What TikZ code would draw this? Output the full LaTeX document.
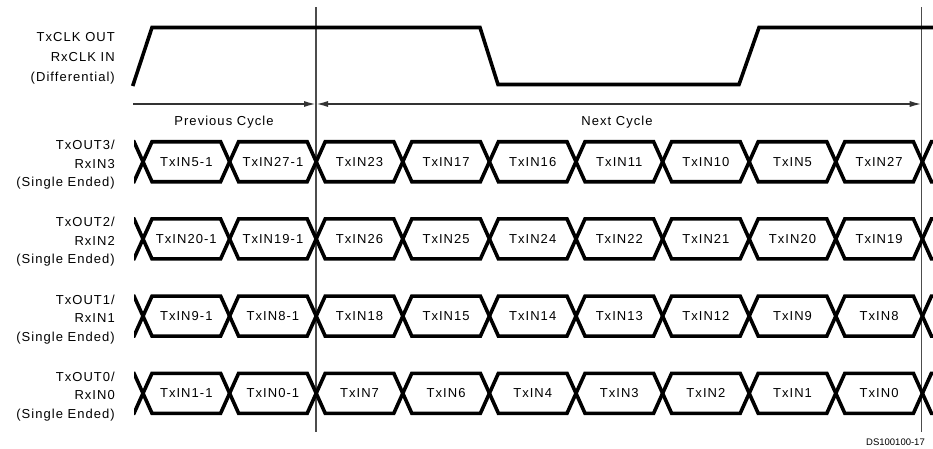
\documentclass[tikz,border=0pt]{standalone}
\usepackage{fontspec}
\setmainfont[LetterSpace=8]{Liberation Sans}
\newfontfamily\dsfont{Liberation Sans}
\usetikzlibrary{arrows.meta}
\begin{document}
\begin{tikzpicture}[x=1pt,y=-1pt,
  sig/.style={line width=3.6pt, line join=miter, line cap=butt},
  guide/.style={line width=1.3pt, draw=black!70},
  dim/.style={line width=1.7pt, draw=black!80},
  tipR/.style={-{Latex[length=12pt,width=6pt]}},
  tipLR/.style={{Latex[length=12pt,width=6pt]}-{Latex[length=12pt,width=6pt]}},
  lbl/.style={font=\fontsize{13}{15}\selectfont, inner sep=0pt},
  side/.style={lbl, anchor=base east},
  cell/.style={lbl, anchor=center}]
\useasboundingbox (0,0) rectangle (933,448);
\fill[white] (0,0) rectangle (933,448);

% clock labels
\node[side] (ck1) at (115,41.7) {TxCLK OUT};
\node[side] (ck2) at (115,61.5) {RxCLK IN};
\node[side] (ck3) at (115,81) {(Differential)};

% guide verticals
\coordinate (v1t) at (316,7);
\coordinate (v1b) at (316,432);
\coordinate (v2t) at (921.7,7);
\coordinate (v2b) at (921.7,432);
\draw[guide] (v1t) -- (v1b);
\draw[guide] (v2t) -- (v2b);

% clock waveform
\begin{scope}
\clip (0,0) rectangle (933,448);
\draw[sig] (132.7,86) -- (152,27.5) -- (480,27.5) -- (498,84.5) -- (739,84.5) -- (759,27.5) -- (945,27.5);
\end{scope}

% cycle dimension arrows
\coordinate (pc0) at (133,104);
\coordinate (pc1) at (316,104);
\coordinate (nc1) at (921.7,104);
\draw[dim,tipR] (pc0) -- (pc1);
\draw[dim,tipLR] (pc1) -- (nc1);
\node[lbl, anchor=base] (prev) at (224,125) {Previous Cycle};
\node[lbl, anchor=base] (next) at (617,125.5) {Next Cycle};

% bus rows
\begin{scope}
\clip (134,0) rectangle (933,448);
\foreach \yy in {161.7,238.9,316.1,393.3}{
  \foreach \i in {-1,...,9}{
    \pgfmathsetmacro\xa{143+86.6*\i}
    \pgfmathsetmacro\xb{\xa+86.6}
    \draw[sig] (\xa,\yy) -- (\xa+9,\yy-20) -- (\xb-9,\yy-20) -- (\xb,\yy);
    \draw[sig] (\xa,\yy) -- (\xa+9,\yy+20) -- (\xb-9,\yy+20) -- (\xb,\yy);
  }
}
\end{scope}

% row labels
\foreach \yy/\n [count=\r] in {161.7/3, 238.9/2, 316.1/1, 393.3/0}{
  \node[side] (sa\r) at (115,\yy-12) {TxOUT\n/};
  \node[side] (sb\r) at (115,\yy+6.6) {RxIN\n};
  \node[side] (sc\r) at (115,\yy+25) {(Single Ended)};
}

% cell labels
\foreach \yy/\lst [count=\r] in {
  161.7/{TxIN5-1,TxIN27-1,TxIN23,TxIN17,TxIN16,TxIN11,TxIN10,TxIN5,TxIN27},
  238.9/{TxIN20-1,TxIN19-1,TxIN26,TxIN25,TxIN24,TxIN22,TxIN21,TxIN20,TxIN19},
  316.1/{TxIN9-1,TxIN8-1,TxIN18,TxIN15,TxIN14,TxIN13,TxIN12,TxIN9,TxIN8},
  393.3/{TxIN1-1,TxIN0-1,TxIN7,TxIN6,TxIN4,TxIN3,TxIN2,TxIN1,TxIN0}}{
  \foreach \t [count=\c from 0] in \lst {
    \pgfmathsetmacro\xc{143+86.6*\c+43.3}
    \node[cell] (c\r-\c) at (\xc,\yy) {\t};
  }
}

\node[font=\dsfont\fontsize{9.5}{11}\selectfont, inner sep=0pt, anchor=base east] (ds) at (925,445) {DS100100-17};
\end{tikzpicture}
\end{document}
